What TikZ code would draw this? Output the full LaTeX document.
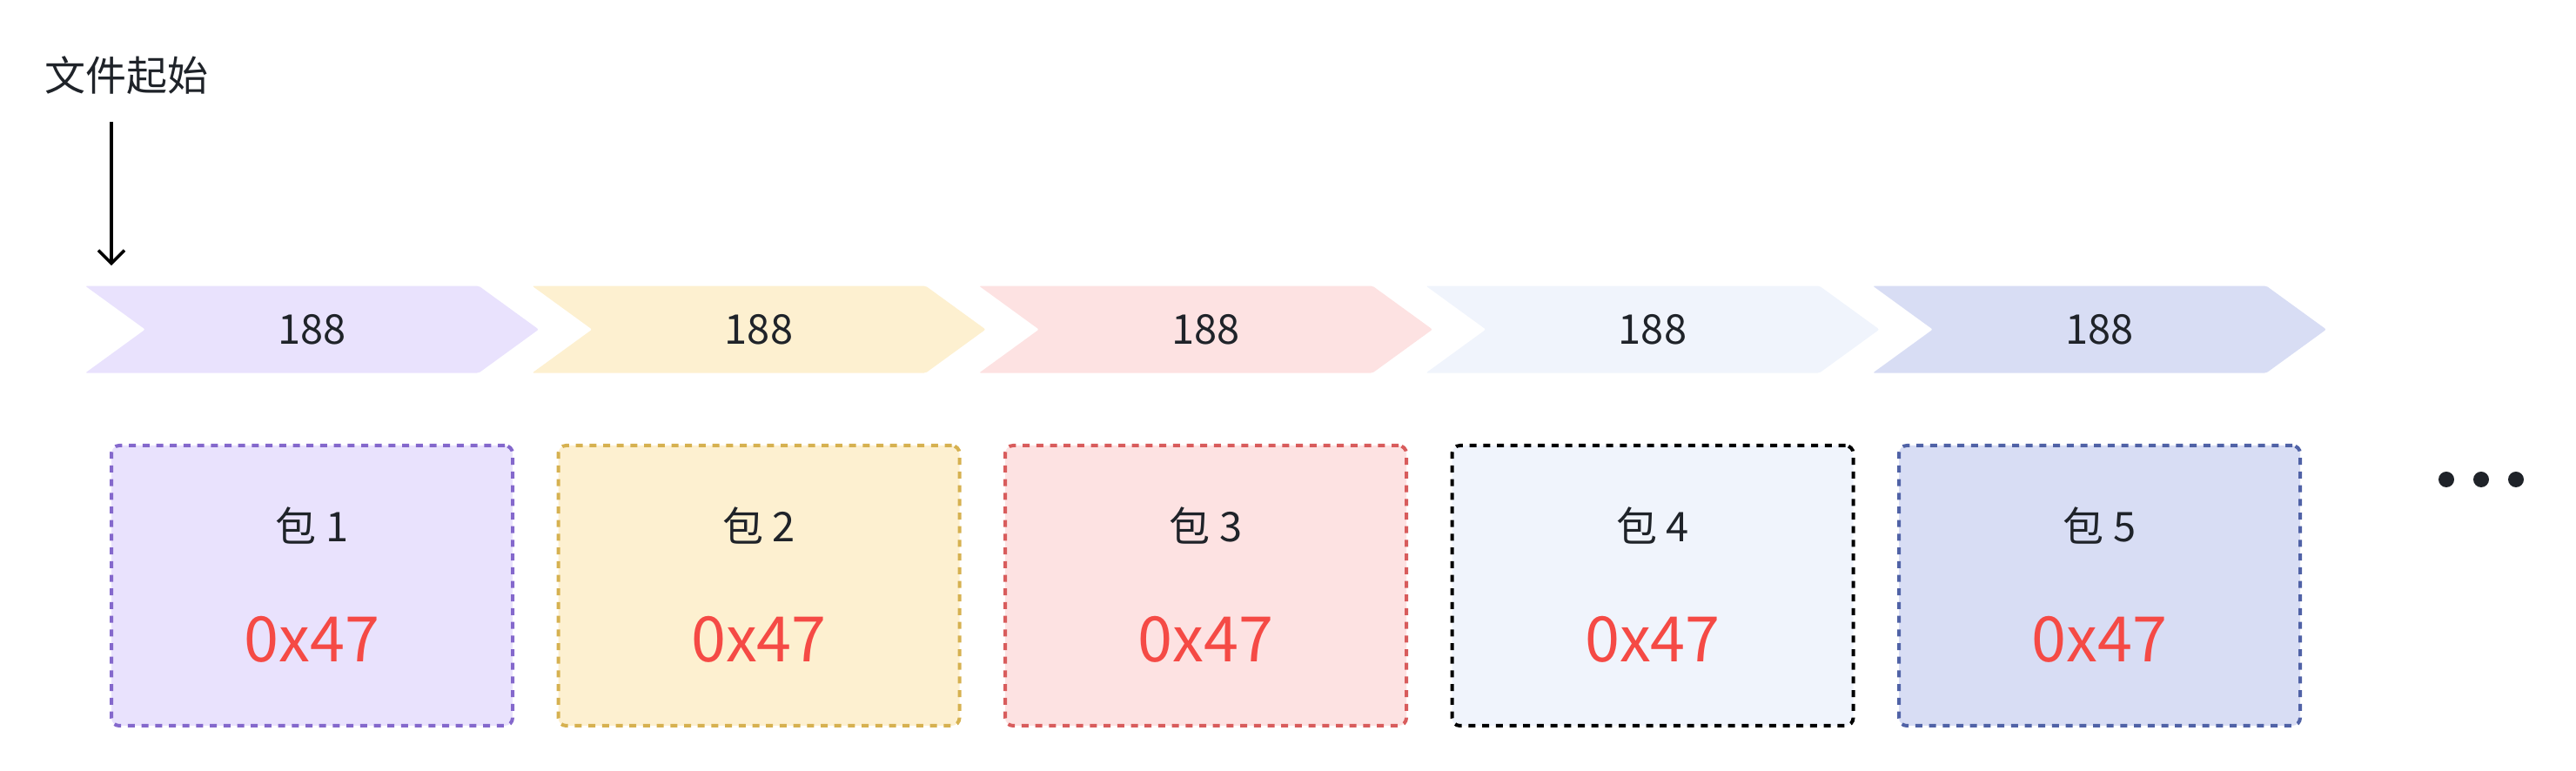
\documentclass[tikz,border=0pt]{standalone}
\usepackage{fontspec}
\setmainfont{Noto Sans CJK SC}
\usetikzlibrary{positioning,shapes.symbols,arrows.meta}
\definecolor{inktext}{HTML}{1F2329}
\definecolor{hexred}{HTML}{F54A45}
\definecolor{lavfill}{HTML}{E9E2FD}
\definecolor{lavdraw}{HTML}{8468CC}
\definecolor{sandfill}{HTML}{FDF0D0}
\definecolor{sanddraw}{HTML}{D6B150}
\definecolor{rosefill}{HTML}{FDE2E2}
\definecolor{rosedraw}{HTML}{D85C5C}
\definecolor{mistfill}{HTML}{F0F4FC}
\definecolor{mistdraw}{HTML}{000000}
\definecolor{skyfill}{HTML}{D8DDF4}
\definecolor{skydraw}{HTML}{5062A6}

\begin{document}
\begin{tikzpicture}[x=1pt,y=1pt,
    chevron/.style={signal, signal from=west, signal to=east, signal pointer angle=72,
        minimum width=260.5pt, minimum height=50pt, inner sep=0pt, rounded corners=1pt,
        text=inktext, font=\fontsize{23.5}{28}\selectfont},
    packet/.style={rectangle, rounded corners=4.5pt, line width=2pt, dash pattern=on 4pt off 3.85pt,
        minimum width=230.5pt, minimum height=161pt, inner sep=0pt},
    pktname/.style={text=inktext, font=\fontsize{23.5}{28}\selectfont, inner sep=0pt},
    pktmagic/.style={text=hexred, font=\fontsize{36}{43}\selectfont, inner sep=0pt}]
    \useasboundingbox (0,0) rectangle (1480,443);

    % file start marker
    \node[text=inktext, font=\fontsize{23.5}{28}\selectfont, inner sep=0pt] (start) at (72.75,399.5) {文件起始};
    \coordinate (starttop) at (64,373);

    % packets with their 188-byte bands
    \foreach \i/\fc/\dc in {1/lavfill/lavdraw, 2/sandfill/sanddraw, 3/rosefill/rosedraw,
                            4/mistfill/mistdraw, 5/skyfill/skydraw} {
        \node[packet, fill=\fc, draw=\dc] (box\i) at ({179.25+256.75*(\i-1)},106.5) {};
        \node[chevron, fill=\fc, above=40.5pt of box\i] (band\i) {188};
        \node[pktname] (name\i) at ([yshift=34.5pt]box\i.center) {包 \i};
        \node[pktmagic] (magic\i) at ([yshift=-31pt]box\i.center) {0x47};
    }

    \draw[-{Straight Barb[length=7.5pt,width=15pt]}, line width=1.75pt, shorten >=11.5pt]
        (starttop) -- (starttop |- band1.north);

    % more packets follow
    \foreach \d in {0,1,2} {
        \fill[inktext] ({1405.5+20*\d},167.5) circle (4.5pt);
    }
\end{tikzpicture}
\end{document}
